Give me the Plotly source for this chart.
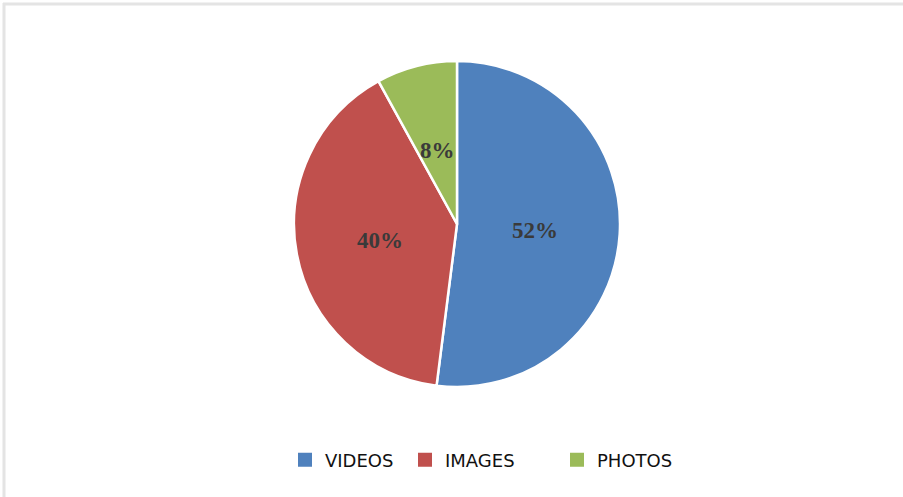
import math
import plotly.graph_objects as go

# Share of content types
categories = ["VIDEOS", "IMAGES", "PHOTOS"]
shares = [52, 40, 8]
slice_colors = ["#4F81BD", "#C0504D", "#9BBB59"]

# horizontal centres of the legend swatches (px)
legend_swatch_x = [305, 425, 577]

W, H = 903, 497
M_L, M_R, M_T, M_B = 11, 0, 61, 110
PW, PH = W - M_L - M_R, H - M_T - M_B


def px_x(px):
    return (px - M_L) / PW


def px_y(py):
    return (H - M_B - py) / PH


fig = go.Figure()
fig.add_trace(
    go.Pie(
        labels=categories,
        values=shares,
        sort=False,
        direction="clockwise",
        rotation=0,
        marker=dict(colors=slice_colors, line=dict(color="white", width=2.5)),
        textinfo="none",
        hoverinfo="label+percent",
        showlegend=False,
    )
)

# percentage labels placed at each slice's mid-angle
total = sum(shares)
radius_px = min(PW, PH) / 2
label_frac = 0.48
cum = 0
for cat, val in zip(categories, shares):
    mid = (cum + val / 2) / total * 2 * math.pi
    cum += val
    dx = label_frac * radius_px * math.sin(mid)
    dy = label_frac * radius_px * math.cos(mid)
    fig.add_annotation(
        xref="paper", yref="paper",
        x=0.5 + dx / PW, y=0.5 + (dy - 2) / PH,
        xanchor="center", yanchor="middle",
        text=f"{round(val / total * 100)}%",
        showarrow=False,
        font=dict(family="Liberation Serif", size=23, color="#3a3a3a", weight="bold"),
    )

# legend entries, one legend per category so each swatch sits at its own spot
legend_names = ["legend", "legend2", "legend3"]
legend_cfg = {}
for cat, col, lx, lg in zip(categories, slice_colors, legend_swatch_x, legend_names):
    fig.add_trace(
        go.Scatter(
            x=[None], y=[None], mode="markers", name=cat,
            marker=dict(symbol="square", size=14, color=col, line=dict(width=0)),
            legend=lg, showlegend=True, hoverinfo="skip",
        )
    )
    legend_cfg[lg] = dict(
        orientation="h",
        xref="container", yref="container",
        x=(lx - 20) / W, xanchor="left",
        y=1 - 460 / H, yanchor="middle",
        font=dict(family="DejaVu Sans", size=18, color="#111111"),
        bgcolor="rgba(0,0,0,0)",
    )

# thin frame along the top and left edges
fig.add_shape(type="line", xref="paper", yref="paper",
              x0=px_x(3), x1=px_x(W + 5), y0=px_y(4), y1=px_y(4),
              line=dict(color="#e4e4e4", width=3))
fig.add_shape(type="line", xref="paper", yref="paper",
              x0=px_x(4), x1=px_x(4), y0=px_y(3), y1=px_y(H + 5),
              line=dict(color="#e4e4e4", width=3))

fig.update_layout(
    width=W,
    height=H,
    margin=dict(l=M_L, r=M_R, t=M_T, b=M_B),
    paper_bgcolor="white",
    plot_bgcolor="white",
    xaxis=dict(visible=False),
    yaxis=dict(visible=False),
    **legend_cfg,
)

fig.write_html("out.html")
